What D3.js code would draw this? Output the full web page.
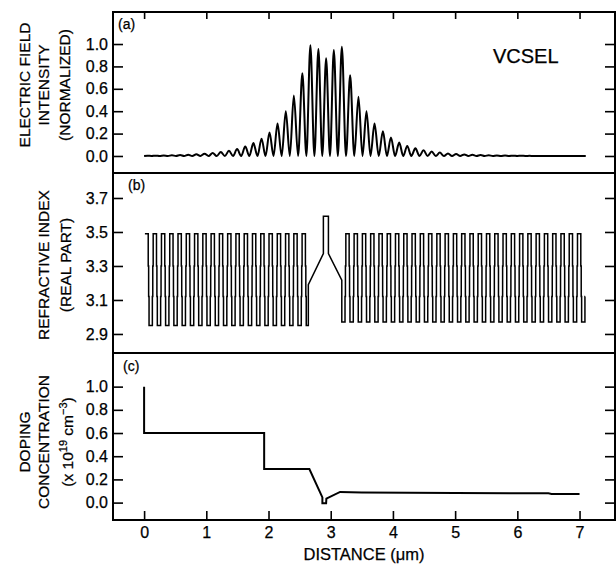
<!DOCTYPE html>
<html>
<head>
<meta charset="utf-8">
<script src="https://cdn.jsdelivr.net/npm/d3@7"></script>
<style>
  body { margin: 0; background: #fff; }
  svg text { font-family: "Liberation Sans", Arial, Helvetica, sans-serif; fill: #000; stroke: #000; stroke-width: 0.25; }
</style>
</head>
<body>
<svg id="chart" width="616" height="565"></svg>
<script>
// tick values
var distanceTicks = [0, 1, 2, 3, 4, 5, 6, 7];
var fieldTicks = [0, 0.2, 0.4, 0.6, 0.8, 1.0];
var indexTicks = [2.9, 3.1, 3.3, 3.5, 3.7];
var dopingTicks = [0, 0.2, 0.4, 0.6, 0.8, 1.0];

// (a) standing wave maxima, [distance um, normalized intensity]
var fieldPeaks = [
  [0.054, 0.002], [0.185, 0.003], [0.316, 0.005], [0.447, 0.007], [0.578, 0.009],
  [0.709, 0.012], [0.840, 0.016], [0.971, 0.021], [1.102, 0.027], [1.233, 0.036],
  [1.364, 0.047], [1.495, 0.062], [1.626, 0.085], [1.757, 0.115], [1.888, 0.155],
  [2.016, 0.21], [2.145, 0.29], [2.278, 0.40], [2.407, 0.54], [2.544, 0.74],
  [2.673, 0.99], [2.802, 0.956], [2.926, 0.873], [3.050, 0.947], [3.179, 0.976],
  [3.312, 0.72], [3.446, 0.53], [3.575, 0.40], [3.704, 0.29], [3.839, 0.22],
  [3.968, 0.165], [4.101, 0.12], [4.230, 0.09], [4.361, 0.068], [4.492, 0.052],
  [4.623, 0.04], [4.754, 0.03], [4.885, 0.023], [5.016, 0.018], [5.147, 0.014],
  [5.278, 0.011], [5.409, 0.008], [5.540, 0.006], [5.671, 0.005], [5.802, 0.004],
  [5.933, 0.003], [6.064, 0.002], [6.195, 0.001]
];
var fieldRange = [0.0, 7.1];

// (b) mirror pair period and one pair's graded profile (fraction of period -> index)
var dbrPeriod = 0.133;
var dbrFrac = [0, 0.40, 0.45, 0.50, 0.90, 0.95];
var bottomLevels = [3.49, 3.30, 3.12, 2.95, 3.12, 3.30];
var topLevels = [3.49, 3.30, 3.12, 2.97, 3.12, 3.30];
var bottomMirror = [0.013, 0.013, 2.64];   // [pair origin, start, end]
var topMirror = [3.11, 3.178, 7.09];
var cavity = [
  [2.64, 2.95], [2.64, 3.19], [2.882, 3.373], [2.882, 3.593],
  [2.963, 3.593], [2.963, 3.373], [3.178, 3.216], [3.178, 2.97]
];

// (c) doping, x 10^19 cm^-3
var doping = [
  [0, 1.0], [0, 0.6], [1.93, 0.6], [1.93, 0.29], [2.657, 0.29], [2.866, 0.045],
  [2.866, -0.005], [2.926, -0.005], [2.93, 0.035], [3.151, 0.092], [3.5, 0.088],
  [5.0, 0.083], [6.5, 0.08], [6.55, 0.075], [7.0, 0.075]
];

var L = 113, R = 615, T = 12, B1 = 173, B2 = 353, B = 520;
var svg = d3.select('#chart');

var x = d3.scaleLinear().domain([-0.5, 7.57]).range([L, R]);
var ya = d3.scaleLinear().domain([-0.152, 1.286]).range([B1, T]);
var yb = d3.scaleLinear().domain([2.788, 3.847]).range([B2, B1]);
var yc = d3.scaleLinear().domain([-0.15, 1.29]).range([B, B2]);

function yAxes(scale, ticks) {
  var gl = svg.append('g').attr('transform', 'translate(' + L + ',0)')
    .call(d3.axisLeft(scale).tickValues(ticks).tickSize(-10).tickPadding(5).tickFormat(d3.format('.1f')));
  var gr = svg.append('g').attr('transform', 'translate(' + R + ',0)')
    .call(d3.axisRight(scale).tickValues(ticks).tickSize(-10).tickFormat(''));
  [gl, gr].forEach(function(g) {
    g.select('.domain').remove();
    g.selectAll('line').attr('stroke', '#000').attr('stroke-width', 1.6);
    g.selectAll('text').attr('font-size', 16).attr('font-family', null);
  });
}
yAxes(ya, fieldTicks);
yAxes(yb, indexTicks);
yAxes(yc, dopingTicks);

var gt = svg.append('g').attr('transform', 'translate(0,' + T + ')')
  .call(d3.axisTop(x).tickValues(distanceTicks).tickSize(-7).tickFormat(''));
var gb = svg.append('g').attr('transform', 'translate(0,' + B + ')')
  .call(d3.axisBottom(x).tickValues(distanceTicks).tickSize(-9).tickPadding(7));
[gt, gb].forEach(function(g) {
  g.select('.domain').remove();
  g.selectAll('line').attr('stroke', '#000').attr('stroke-width', 1.6);
  g.selectAll('text').attr('font-size', 16).attr('font-family', null);
});

// frame
svg.append('rect').attr('x', L).attr('y', T).attr('width', R - L).attr('height', B - T)
  .attr('fill', 'none').attr('stroke', '#000').attr('stroke-width', 2);
[ya(ya.domain()[0]), yb(yb.domain()[0])].forEach(function(y) {
  svg.append('line').attr('x1', L).attr('x2', R).attr('y1', y).attr('y2', y)
    .attr('stroke', '#000').attr('stroke-width', 2);
});

// (a) field intensity: maxima joined through zero minima
var fieldPts = [[fieldRange[0], 0]];
fieldPeaks.forEach(function(p, i) {
  if (i > 0) fieldPts.push([(fieldPeaks[i - 1][0] + p[0]) / 2, 0]);
  fieldPts.push(p);
});
var lastPeak = fieldPeaks[fieldPeaks.length - 1][0];
fieldPts.push([lastPeak + dbrPeriod / 2, 0], [fieldRange[1], 0]);

svg.append('path').datum(fieldPts)
  .attr('fill', 'none').attr('stroke', '#000').attr('stroke-width', 2)
  .attr('d', d3.line().x(function(d) { return x(d[0]); }).y(function(d) { return ya(d[1]); })
    .curve(d3.curveMonotoneX));

// (b) refractive index
function mirror(m, levels) {
  var pts = [];
  for (var base = m[0]; base < m[2]; base += dbrPeriod) {
    dbrFrac.forEach(function(f, i) {
      var a = Math.max(base + f * dbrPeriod, m[1]);
      var b = Math.min(base + (i + 1 < dbrFrac.length ? dbrFrac[i + 1] : 1) * dbrPeriod, m[2]);
      if (b > a) pts.push([a, levels[i]], [b, levels[i]]);
    });
  }
  return pts;
}
var indexPts = mirror(bottomMirror, bottomLevels).concat(cavity, mirror(topMirror, topLevels));
svg.append('path').datum(indexPts)
  .attr('fill', 'none').attr('stroke', '#000').attr('stroke-width', 1.5)
  .attr('d', d3.line().x(function(d) { return x(d[0]); }).y(function(d) { return yb(d[1]); }));

// (c) doping
svg.append('path').datum(doping)
  .attr('fill', 'none').attr('stroke', '#000').attr('stroke-width', 2)
  .attr('d', d3.line().x(function(d) { return x(d[0]); }).y(function(d) { return yc(d[1]); }));

// panel letters and labels
svg.append('text').attr('x', 118).attr('y', 29).attr('font-size', 14).text('(a)');
svg.append('text').attr('x', 128).attr('y', 190).attr('font-size', 14).text('(b)');
svg.append('text').attr('x', 123).attr('y', 371).attr('font-size', 14).text('(c)');
svg.append('text').attr('x', 493).attr('y', 63).attr('font-size', 20).text('VCSEL');

function yLabel(cy, lines) {
  lines.forEach(function(l) {
    var t = svg.append('text').attr('transform', 'translate(' + l[0] + ',' + cy + ') rotate(-90)')
      .attr('text-anchor', 'middle').attr('font-size', 15.5);
    l[1].forEach(function(s) {
      var ts = t.append('tspan').text(s[0]);
      if (s[1]) ts.attr('baseline-shift', 'super').attr('font-size', 11);
    });
  });
}
yLabel(85, [[30, [['ELECTRIC FIELD']]], [49, [['INTENSITY']]], [70, [['(NORMALIZED)']]]]);
yLabel(265, [[48.5, [['REFRACTIVE INDEX']]], [70.5, [['(REAL PART)']]]]);
yLabel(442, [[29.5, [['DOPING']]], [48.5, [['CONCENTRATION']]],
  [73, [['(x 10'], ['19', true], [' cm'], ['\u22123', true], [')']]]]);

svg.append('text').attr('x', (L + R) / 2).attr('y', 560).attr('text-anchor', 'middle')
  .attr('font-size', 16.5).text('DISTANCE (\u03bcm)');
</script>
</body>
</html>
